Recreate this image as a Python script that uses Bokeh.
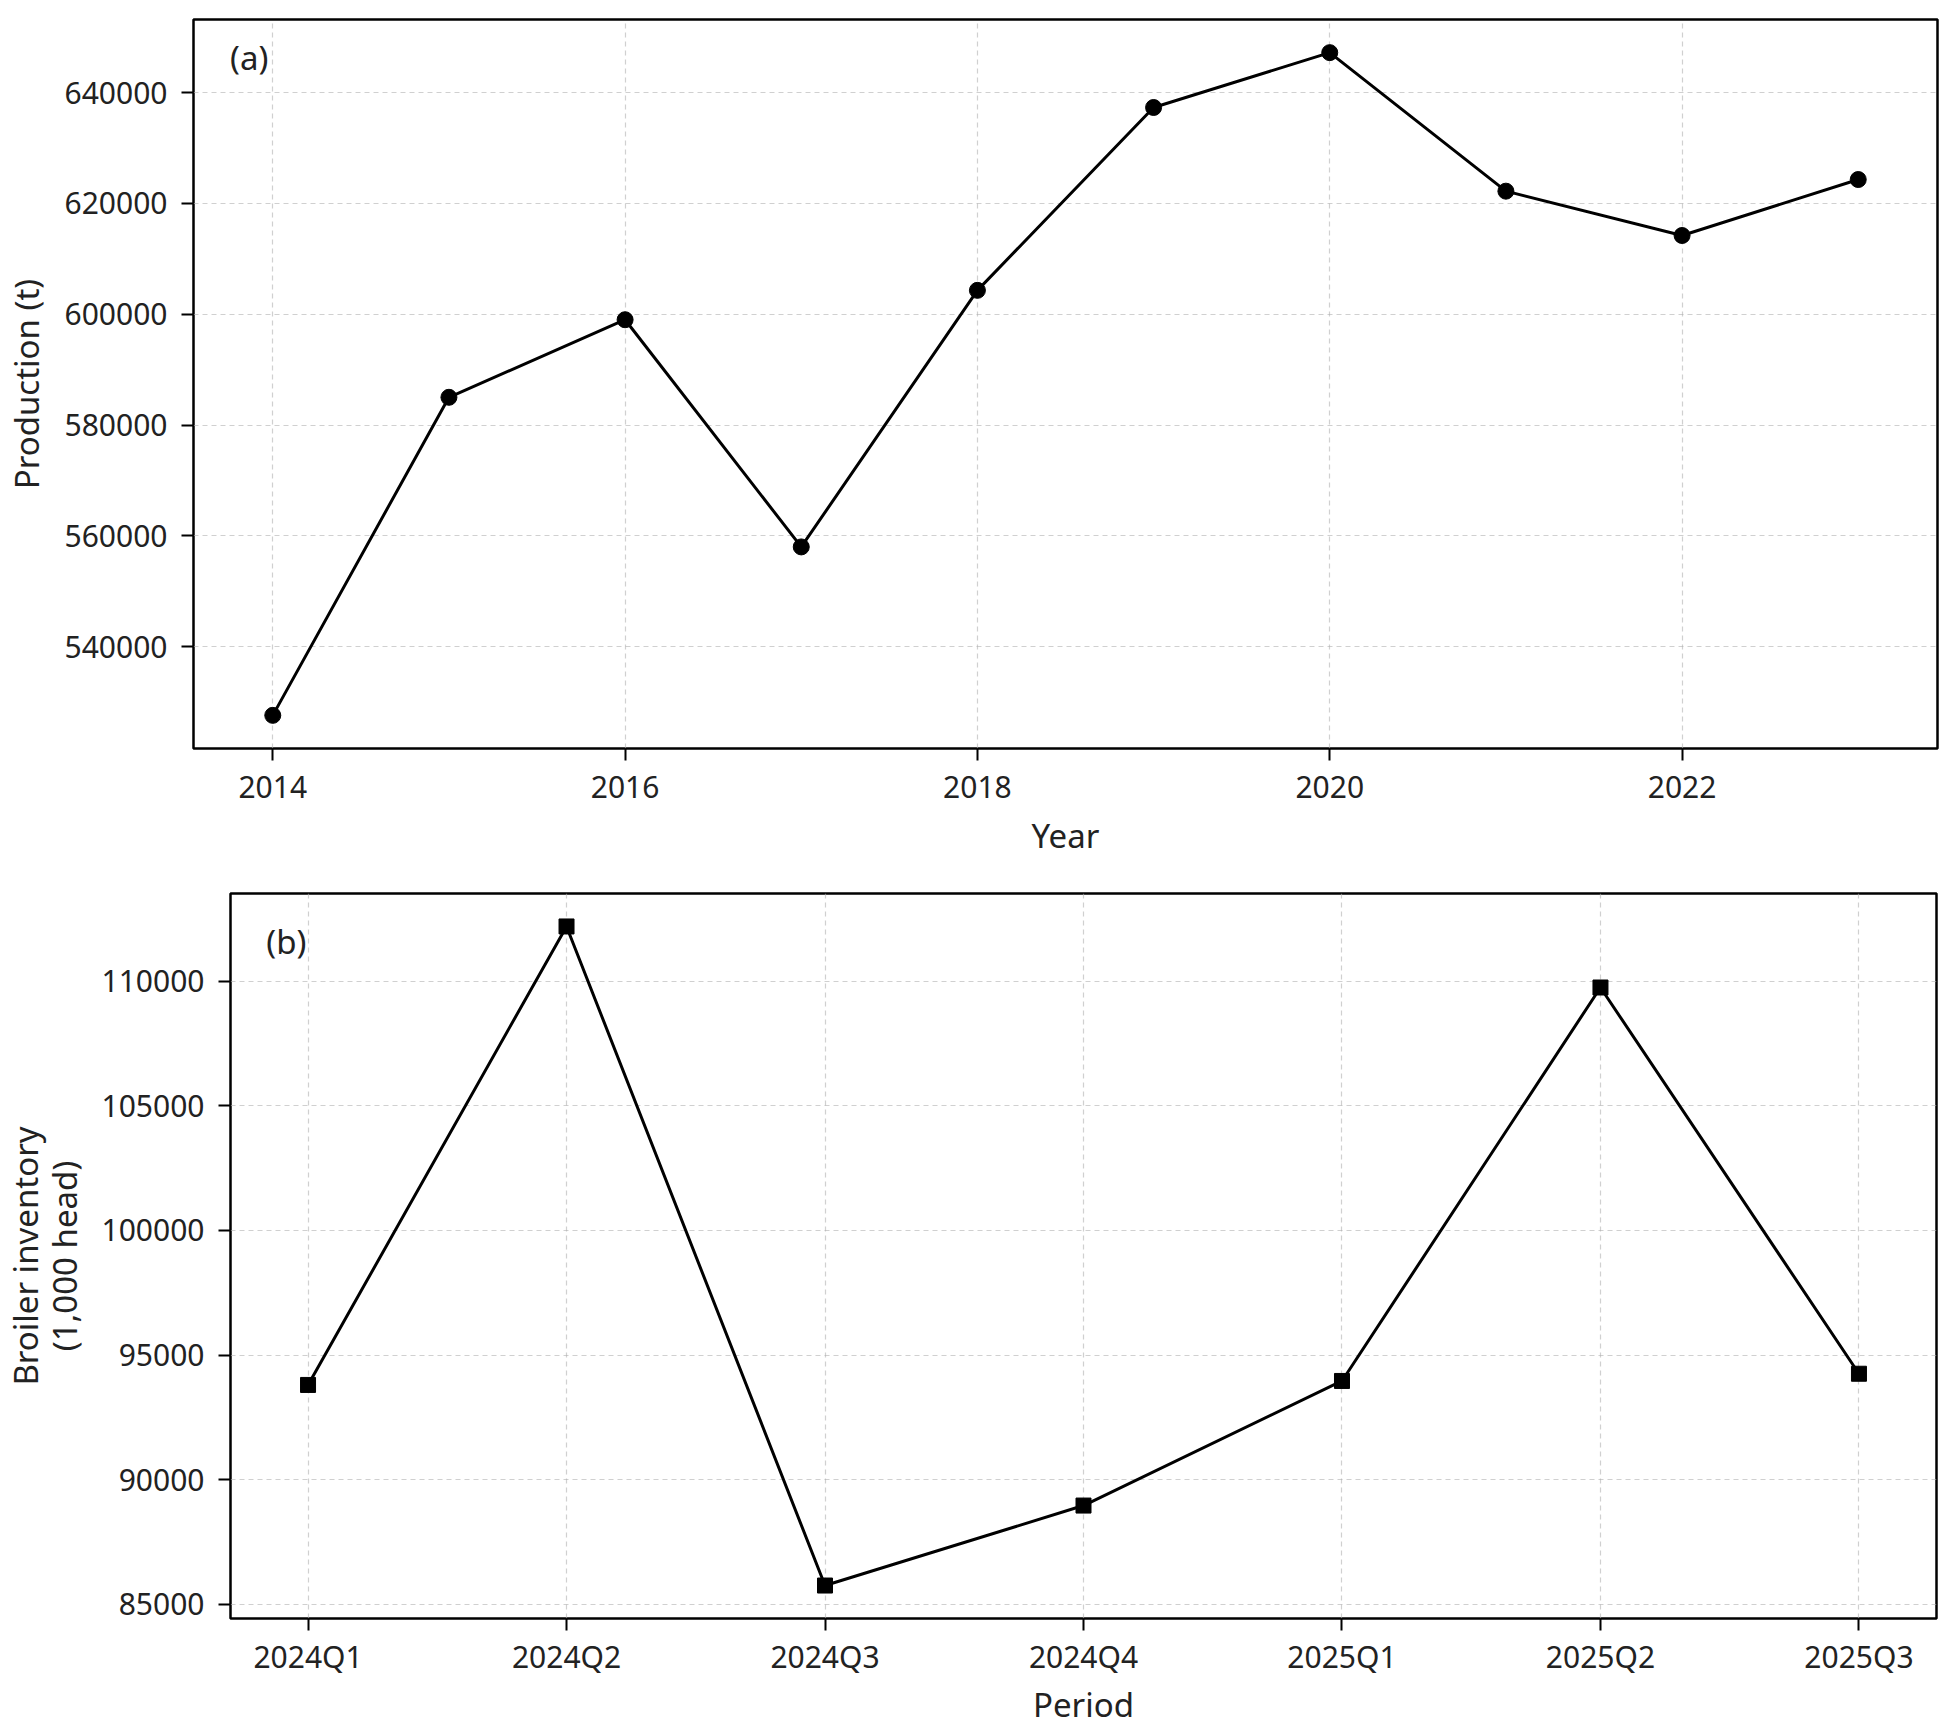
from bokeh.plotting import figure
from bokeh.models import Range1d, FixedTicker, BasicTickFormatter, Label
from bokeh.embed import file_html
from bokeh.resources import INLINE

# ---- data ----
years = [2014, 2015, 2016, 2017, 2018, 2019, 2020, 2021, 2022, 2023]
production = [527600, 585000, 599000, 558000, 604300, 637300, 647200, 622200, 614200, 624300]

periods = ["2024Q1", "2024Q2", "2024Q3", "2024Q4", "2025Q1", "2025Q2", "2025Q3"]
inventory = [93800, 112200, 85750, 88960, 93960, 109750, 94250]

year_ticks = [2014, 2016, 2018, 2020, 2022]
prod_ticks = [540000, 560000, 580000, 600000, 620000, 640000]
inv_ticks = [85000, 90000, 95000, 100000, 105000, 110000]

FONT = "Noto Sans"
TICK_FS = "30px"
LABEL_FS = "33px"


def style(p):
    p.outline_line_color = "black"
    p.outline_line_width = 2.5
    p.outline_line_alpha = 1.0
    for ax in (p.xaxis[0], p.yaxis[0]):
        ax.axis_line_color = None
        ax.major_tick_line_color = "black"
        ax.major_tick_line_width = 2
        ax.major_tick_out = 12
        ax.major_tick_in = 0
        ax.minor_tick_line_color = None
        ax.major_label_text_font = FONT
        ax.major_label_text_font_size = TICK_FS
        ax.major_label_text_color = "#222222"
        ax.axis_label_text_font = FONT
        ax.axis_label_text_font_size = LABEL_FS
        ax.axis_label_text_font_style = "normal"
        ax.axis_label_text_color = "#222222"
    p.yaxis[0].major_label_standoff = 14
    for g in (p.xgrid[0], p.ygrid[0]):
        g.grid_line_color = "#b0b0b0"
        g.grid_line_alpha = 0.6
        g.grid_line_dash = "5 4"
        g.grid_line_width = 1.2
    p.background_fill_color = "white"
    p.border_fill_color = "white"


def pad(lo, hi, frac=0.05):
    s = hi - lo
    return lo - frac * s, hi + frac * s


# ---- panel (a) ----
x0, x1 = pad(min(years), max(years))
y0, y1 = pad(min(production), max(production))
pa = figure(output_backend="svg", toolbar_location=None,
            frame_width=1744, frame_height=729,
            x_range=Range1d(x0, x1), y_range=Range1d(y0, y1),
            min_border_left=187, min_border_right=11,
            min_border_top=19, min_border_bottom=122)
style(pa)
pa.xaxis[0].major_label_standoff = 15
pa.xaxis[0].axis_label_standoff = 12
pa.yaxis[0].axis_label_standoff = 13
pa.xaxis[0].ticker = FixedTicker(ticks=year_ticks)
pa.yaxis[0].ticker = FixedTicker(ticks=prod_ticks)
pa.yaxis[0].formatter = BasicTickFormatter(use_scientific=False)
pa.xaxis[0].axis_label = "Year"
pa.yaxis[0].axis_label = "Production (t)"
pa.line(years, production, line_color="black", line_width=3)
pa.scatter(years, production, marker="circle", size=16, fill_color="black", line_color="black")
pa.add_layout(Label(x=x0 + (x1 - x0) * 0.021, y=y1 - (y1 - y0) * 0.021, text="(a)",
                    text_font=FONT, text_font_size="33px", text_color="#222222",
                    text_baseline="top", text_align="left"))

# ---- panel (b) ----
idx = list(range(len(periods)))
bx0, bx1 = -0.3, len(periods) - 1 + 0.3
by0, by1 = pad(min(inventory), max(inventory))
pb = figure(output_backend="svg", toolbar_location=None,
            frame_width=1706, frame_height=725,
            x_range=Range1d(bx0, bx1), y_range=Range1d(by0, by1),
            min_border_left=220, min_border_right=11,
            min_border_top=23, min_border_bottom=90)
style(pb)
pb.xaxis[0].major_label_standoff = 5
pb.xaxis[0].axis_label_standoff = 2
pb.yaxis[0].axis_label_standoff = 12
pb.xaxis[0].ticker = FixedTicker(ticks=idx)
pb.xaxis[0].major_label_overrides = {i: lab for i, lab in zip(idx, periods)}
pb.yaxis[0].ticker = FixedTicker(ticks=inv_ticks)
pb.yaxis[0].formatter = BasicTickFormatter(use_scientific=False)
pb.xaxis[0].axis_label = "Period"
pb.yaxis[0].axis_label = "Broiler inventory\n(1,000 head)"
pb.yaxis[0].axis_label_text_line_height = 0.85
pb.line(idx, inventory, line_color="black", line_width=3)
pb.scatter(idx, inventory, marker="square", size=15, fill_color="black", line_color="black")
pb.add_layout(Label(x=bx0 + (bx1 - bx0) * 0.021, y=by1 - (by1 - by0) * 0.035, text="(b)",
                    text_font=FONT, text_font_size="33px", text_color="#222222",
                    text_baseline="top", text_align="left"))

open("out.html", "w").write(file_html([pa, pb], INLINE))
